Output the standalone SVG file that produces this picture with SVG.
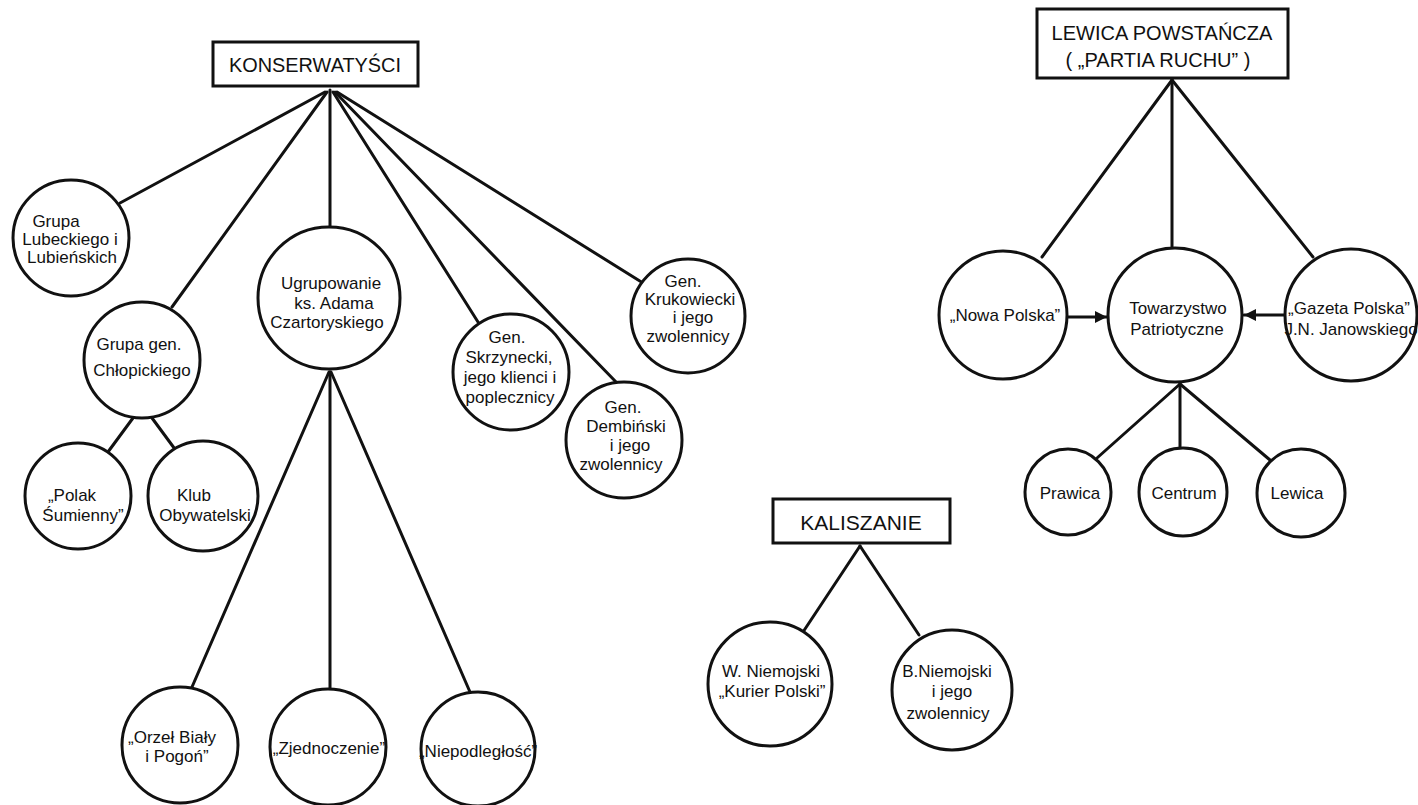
<svg xmlns="http://www.w3.org/2000/svg" width="1418" height="805" viewBox="0 0 1418 805">
<defs>
<style>
.bg{fill:#ffffff}
.c{fill:#ffffff;stroke:#111;stroke-width:3}
.b{fill:#ffffff;stroke:#111;stroke-width:3}
.l{stroke:#111;stroke-width:3;fill:none;stroke-linecap:round}
text{font-family:"Liberation Sans",Arial,sans-serif;fill:#111;text-anchor:middle}
.t{font-size:17px}
.h{font-size:20px}
</style>
<marker id="ah" viewBox="0 0 10 10" refX="10" refY="5" markerWidth="4" markerHeight="4" orient="auto" markerUnits="strokeWidth">
<path d="M0,0 L10,5 L0,10 z" fill="#111"/>
</marker>
</defs>
<rect class="bg" x="0" y="0" width="1418" height="805"/>

<g id="connectors">
<line class="l" x1="325" y1="92" x2="120" y2="203"/>
<line class="l" x1="327" y1="92" x2="172" y2="307"/>
<line class="l" x1="330" y1="90" x2="330" y2="227"/>
<line class="l" x1="333" y1="92" x2="478" y2="322"/>
<line class="l" x1="335" y1="92" x2="617" y2="383"/>
<line class="l" x1="337" y1="92" x2="643" y2="283"/>
<line class="l" x1="133" y1="418" x2="105" y2="456"/>
<line class="l" x1="152" y1="418" x2="180" y2="456"/>
<line class="l" x1="329" y1="372" x2="192" y2="687"/>
<line class="l" x1="330" y1="372" x2="330" y2="690"/>
<line class="l" x1="331" y1="372" x2="470" y2="692"/>
<line class="l" x1="1172" y1="80" x2="1042" y2="257"/>
<line class="l" x1="1172" y1="80" x2="1172" y2="248"/>
<line class="l" x1="1172" y1="80" x2="1313" y2="257"/>
<line class="l" x1="1067" y1="317" x2="1107" y2="317" marker-end="url(#ah)"/>
<line class="l" x1="1285" y1="315" x2="1244" y2="315" marker-end="url(#ah)"/>
<line class="l" x1="1180" y1="384" x2="1097" y2="458"/>
<line class="l" x1="1180" y1="384" x2="1180" y2="450"/>
<line class="l" x1="1180" y1="384" x2="1270" y2="460"/>
<line class="l" x1="860" y1="546" x2="803" y2="632"/>
<line class="l" x1="860" y1="546" x2="919" y2="635"/>
</g>

<g id="konserwatysci">
<rect class="b" x="213" y="42" width="205" height="44"/>
<text class="h" x="315" y="72" textLength="172" lengthAdjust="spacingAndGlyphs">KONSERWATYŚCI</text>
</g>

<g id="lubecki">
<circle class="c" cx="71" cy="238" r="58"/>
<text class="t" x="56" y="227">Grupa</text>
<text class="t" x="70" y="245">Lubeckiego i</text>
<text class="t" x="72" y="263">Lubieńskich</text>
</g>

<g id="chlopicki">
<circle class="c" cx="142" cy="360" r="58"/>
<text class="t" x="139" y="350">Grupa gen.</text>
<text class="t" x="142" y="376">Chłopickiego</text>
</g>

<g id="polak">
<circle class="c" cx="78" cy="496" r="53"/>
<text class="t" x="72" y="501">„Polak</text>
<text class="t" x="83" y="521">Śumienny”</text>
</g>

<g id="klub">
<circle class="c" cx="203" cy="496" r="55"/>
<text class="t" x="194" y="501">Klub</text>
<text class="t" x="205" y="521">Obywatelski</text>
</g>

<g id="czartoryski">
<circle class="c" cx="329" cy="298" r="71"/>
<text class="t" x="331" y="289">Ugrupowanie</text>
<text class="t" x="334" y="309">ks. Adama</text>
<text class="t" x="327" y="328">Czartoryskiego</text>
</g>

<g id="skrzynecki">
<circle class="c" cx="511" cy="372" r="58"/>
<text class="t" x="507" y="343">Gen.</text>
<text class="t" x="509" y="363">Skrzynecki,</text>
<text class="t" x="510" y="383">jego klienci i</text>
<text class="t" x="510" y="403">poplecznicy</text>
</g>

<g id="dembinski">
<circle class="c" cx="624" cy="440" r="58"/>
<text class="t" x="623" y="413">Gen.</text>
<text class="t" x="626" y="432">Dembiński</text>
<text class="t" x="630" y="451">i jego</text>
<text class="t" x="621" y="470">zwolennicy</text>
</g>

<g id="krukowiecki">
<circle class="c" cx="688" cy="316" r="57"/>
<text class="t" x="683" y="287">Gen.</text>
<text class="t" x="690" y="305">Krukowiecki</text>
<text class="t" x="693" y="323">i jego</text>
<text class="t" x="688" y="342">zwolennicy</text>
</g>

<g id="orzel">
<circle class="c" cx="180" cy="745" r="58"/>
<text class="t" x="172" y="743">„Orzeł Biały</text>
<text class="t" x="177" y="762">i Pogoń”</text>
</g>

<g id="zjednoczenie">
<circle class="c" cx="328" cy="747" r="58"/>
<text class="t" x="329" y="754">„Zjednoczenie”</text>
</g>

<g id="niepodleglosc">
<circle class="c" cx="478" cy="749" r="57"/>
<text class="t" x="478" y="757">„Niepodległość”</text>
</g>

<g id="lewica-powstancza">
<rect class="b" x="1037" y="9" width="251" height="69"/>
<text class="h" x="1162" y="40">LEWICA POWSTAŃCZA</text>
<text class="h" x="1158" y="67">( „PARTIA RUCHU” )</text>
</g>

<g id="nowa-polska">
<circle class="c" cx="1003" cy="315" r="64"/>
<text class="t" x="1005" y="321">„Nowa Polska”</text>
</g>

<g id="towarzystwo">
<circle class="c" cx="1175" cy="315" r="67"/>
<text class="t" x="1178" y="314">Towarzystwo</text>
<text class="t" x="1177" y="335">Patriotyczne</text>
</g>

<g id="gazeta-polska">
<circle class="c" cx="1351" cy="315" r="66"/>
<text class="t" x="1349" y="314">„Gazeta Polska”</text>
<text class="t" x="1351" y="335">J.N. Janowskiego</text>
</g>

<g id="prawica">
<circle class="c" cx="1068" cy="492" r="43"/>
<text class="t" x="1070" y="499">Prawica</text>
</g>

<g id="centrum">
<circle class="c" cx="1183" cy="492" r="44"/>
<text class="t" x="1184" y="499">Centrum</text>
</g>

<g id="lewica">
<circle class="c" cx="1301" cy="493" r="44"/>
<text class="t" x="1297" y="499">Lewica</text>
</g>

<g id="kaliszanie">
<rect class="b" x="773" y="499" width="177" height="44"/>
<text class="h" x="861" y="530" style="font-size:21px">KALISZANIE</text>
</g>

<g id="w-niemojski">
<circle class="c" cx="770" cy="684" r="62"/>
<text class="t" x="771" y="677">W. Niemojski</text>
<text class="t" x="772" y="697">„Kurier Polski”</text>
</g>

<g id="b-niemojski">
<circle class="c" cx="952" cy="690" r="60"/>
<text class="t" x="947" y="677">B.Niemojski</text>
<text class="t" x="952" y="697">i jego</text>
<text class="t" x="948" y="719">zwolennicy</text>
</g>
</svg>
